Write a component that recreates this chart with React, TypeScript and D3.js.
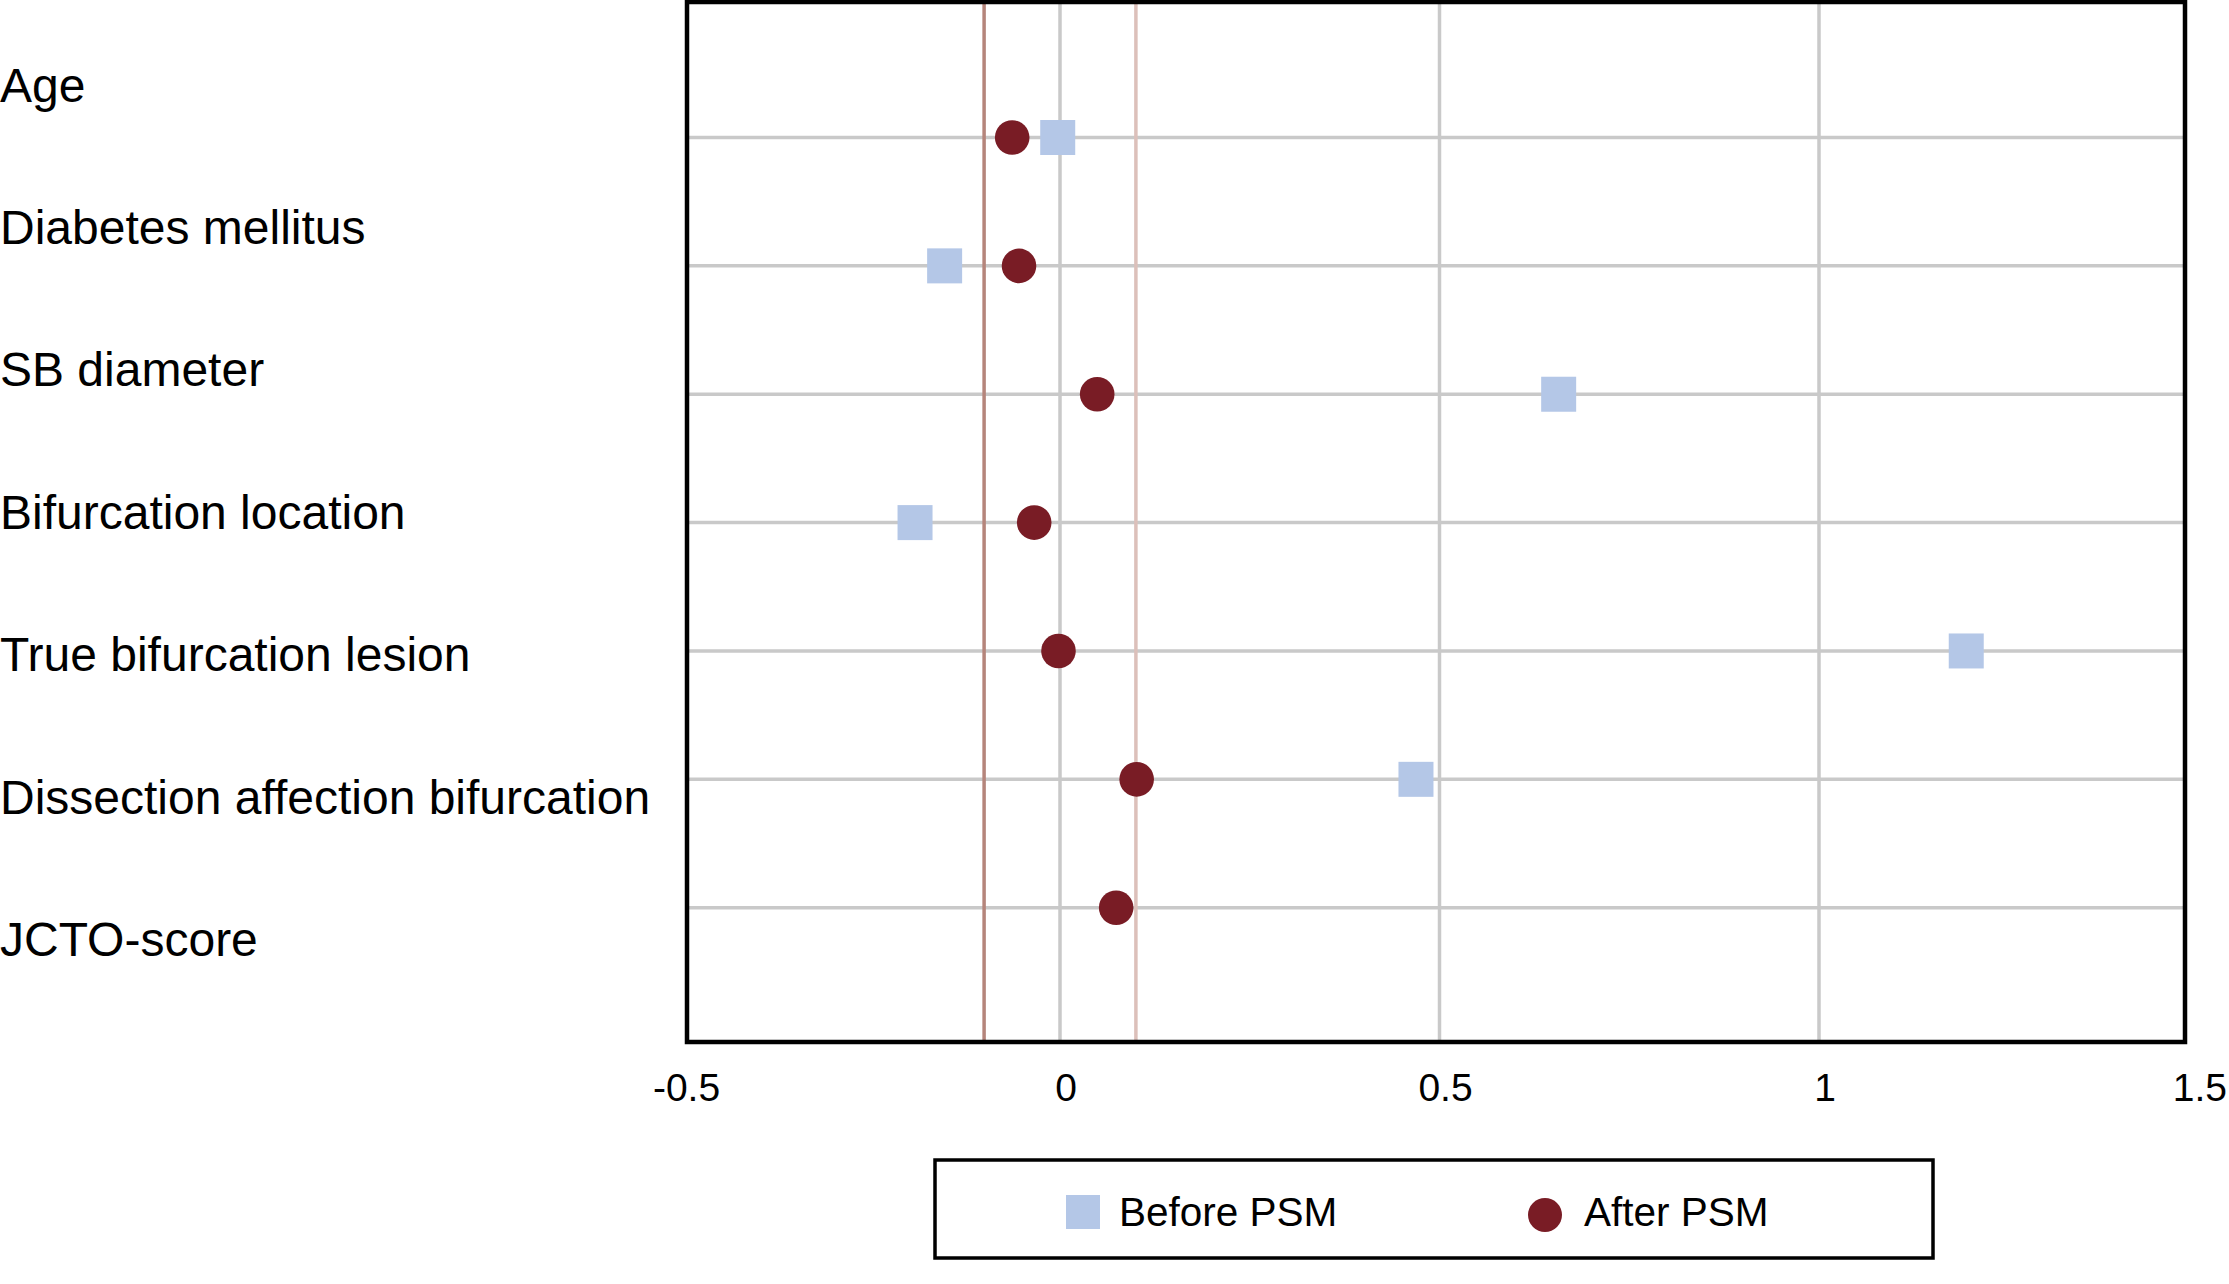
import React from "react";
import * as d3 from "d3";

const categories = [
  "Age",
  "Diabetes mellitus",
  "SB diameter",
  "Bifurcation location",
  "True bifurcation lesion",
  "Dissection affection bifurcation",
  "JCTO-score",
];
const beforePSM: (number | null)[] = [-0.003, -0.152, 0.657, -0.191, 1.194, 0.469, null];
const afterPSM: number[] = [-0.063, -0.054, 0.049, -0.034, -0.002, 0.101, 0.074];
const xTicks = [-0.5, 0, 0.5, 1, 1.5];
const gridX = [0, 0.5, 1];
const thresholdLines = [
  { value: -0.1, color: "#B5857B" },
  { value: 0.1, color: "#DCC0BA" },
];
const legendItems = ["Before PSM", "After PSM"];

const W = 2229;
const H = 1284;
const FONT = "'Liberation Sans', Arial, Helvetica, sans-serif";
const BLUE = "#B4C7E7";
const RED = "#791C25";
const GRID = "#C9C9C9";

export default function App() {
  const frame = { left: 687, right: 2185, top: 2, bottom: 1042 };
  const x = d3.scaleLinear().domain([-0.5, 1.5]).range([680.5, 2198.5]);
  const y = d3.scalePoint<string>().domain(categories).range([137.5, 907.7]);
  const yLabel = d3.scalePoint<string>().domain(categories).range([101.7, 956]);
  const sq = 35;
  const r = 17.3;

  return (
    <svg
      width={W}
      height={H}
      viewBox={`0 0 ${W} ${H}`}
      style={{ position: "absolute", left: 0, top: 0, background: "#fff" }}
    >
      <rect x={0} y={0} width={W} height={H} fill="#fff" />
      {/* category labels */}
      {categories.map((c) => (
        <text key={c} x={0} y={yLabel(c)} fontFamily={FONT} fontSize={48} fill="#000">
          {c}
        </text>
      ))}
      {/* horizontal gridlines */}
      {categories.map((c) => (
        <line
          key={"h" + c}
          x1={frame.left}
          x2={frame.right}
          y1={y(c)}
          y2={y(c)}
          stroke={GRID}
          strokeWidth={3.5}
        />
      ))}
      {/* vertical gridlines */}
      {gridX.map((v) => (
        <line
          key={"v" + v}
          x1={x(v)}
          x2={x(v)}
          y1={frame.top}
          y2={frame.bottom}
          stroke={GRID}
          strokeWidth={3.5}
        />
      ))}
      {/* threshold lines */}
      {thresholdLines.map((t) => (
        <line
          key={"t" + t.value}
          x1={x(t.value)}
          x2={x(t.value)}
          y1={frame.top}
          y2={frame.bottom}
          stroke={t.color}
          strokeWidth={3.5}
        />
      ))}
      {/* before PSM squares */}
      {categories.map((c, i) =>
        beforePSM[i] === null ? null : (
          <rect
            key={"b" + c}
            x={x(beforePSM[i] as number) - sq / 2}
            y={(y(c) as number) - sq / 2}
            width={sq}
            height={sq}
            fill={BLUE}
          />
        )
      )}
      {/* after PSM circles */}
      {categories.map((c, i) => (
        <circle key={"a" + c} cx={x(afterPSM[i])} cy={y(c)} r={r} fill={RED} />
      ))}
      {/* frame */}
      <rect
        x={frame.left}
        y={frame.top}
        width={frame.right - frame.left}
        height={frame.bottom - frame.top}
        fill="none"
        stroke="#000"
        strokeWidth={4.5}
      />
      {/* x tick labels */}
      {xTicks.map((v, i) => {
        const last = i === xTicks.length - 1;
        return (
          <text
            key={"xt" + v}
            x={last ? W - 2 : x(v) + 6}
            y={1101}
            textAnchor={last ? "end" : "middle"}
            fontFamily={FONT}
            fontSize={39}
            fill="#000"
          >
            {String(v)}
          </text>
        );
      })}
      {/* legend */}
      <rect x={935} y={1160} width={998} height={98} fill="#fff" stroke="#000" strokeWidth={3.5} />
      <rect x={1066} y={1195} width={34} height={34} fill={BLUE} />
      <text x={1119} y={1226} fontFamily={FONT} fontSize={40.5} fill="#000">
        {legendItems[0]}
      </text>
      <circle cx={1545} cy={1215} r={17} fill={RED} />
      <text x={1584} y={1226} fontFamily={FONT} fontSize={40.5} fill="#000">
        {legendItems[1]}
      </text>
    </svg>
  );
}
